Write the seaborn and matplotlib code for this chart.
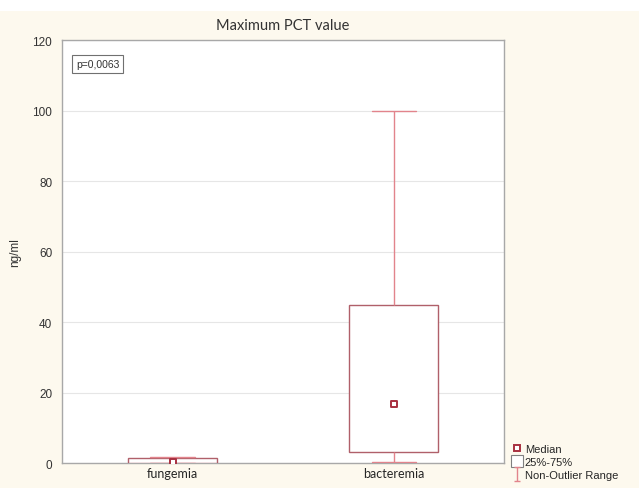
import matplotlib
matplotlib.use("Agg")
import matplotlib.pyplot as plt
from matplotlib.lines import Line2D
from matplotlib.patches import Rectangle
from matplotlib.path import Path
import seaborn as sns
import pandas as pd

# summary stats: min, q1, median, q3, max
groups = ["fungemia", "bacteremia"]
fungemia_vals = [0.05, 0.1, 0.35, 1.4, 1.7]
bacteremia_vals = [0.2, 3.0, 16.8, 44.8, 100.0]
medians = [fungemia_vals[2], bacteremia_vals[2]]
yticks = [0, 20, 40, 60, 80, 100, 120]

df = pd.DataFrame({
    "group": ["fungemia"] * len(fungemia_vals) + ["bacteremia"] * len(bacteremia_vals),
    "value": fungemia_vals + bacteremia_vals,
})

cream = "#fdf9ee"
box_col = "#b0606a"
whisk_col = "#e2848c"
med_col = "#a83040"

sns.set_style("white")
plt.rcParams["font.family"] = ["Liberation Sans", "DejaVu Sans"]

fig = plt.figure(figsize=(6.39, 4.89), dpi=100, facecolor=cream)
fig.add_artist(Rectangle((0, 0.975), 1, 0.025, transform=fig.transFigure,
                         facecolor="white", edgecolor="none", zorder=0))
ax = fig.add_axes([0.097, 0.051, 0.692, 0.865])
ax.set_facecolor("white")

sns.boxplot(data=df, x="group", y="value", order=groups, whis=(0, 100), width=0.4,
            showfliers=False, color="white", linecolor=box_col, linewidth=1,
            whiskerprops=dict(color=whisk_col), capprops=dict(color=whisk_col),
            medianprops=dict(linewidth=0), ax=ax, zorder=3)
sns.scatterplot(x=groups, y=medians, marker="s", s=22, color="white",
                edgecolor=med_col, linewidth=1.4, ax=ax, zorder=5)

ax.set_ylim(0, 120)
ax.set_xlim(-0.5, 1.5)
ax.set_yticks(yticks)
ax.yaxis.grid(True, color="#e6e6e6", linewidth=0.8, zorder=0)
ax.set_axisbelow(True)
for s in ax.spines.values():
    s.set_color("#a8a8a8")
    s.set_linewidth(1)
ax.tick_params(axis="y", length=3, color="#a8a8a8", labelsize=8.5, labelcolor="#333333", pad=4)
ax.tick_params(axis="x", length=0, labelsize=9, pad=3)
for lab in ax.get_xticklabels():
    lab.set_family(["Lato", "DejaVu Sans"])
ax.set_xlabel("")
ax.set_ylabel("ng/ml", fontsize=8.5, color="#333333", labelpad=8)
ax.set_title("Maximum PCT value", fontsize=10.5, family=["Lato", "DejaVu Sans"],
             color="#333333", pad=8)

ax.text(0.032, 0.955, "p=0,0063", transform=ax.transAxes, fontsize=7.5,
        va="top", ha="left", color="#333333",
        bbox=dict(boxstyle="square,pad=0.35", facecolor="white", edgecolor="#707070", linewidth=0.8))

ibeam = Path([(-0.5, 1), (0.5, 1), (0, 1), (0, -1), (-0.5, -1), (0.5, -1)],
             [Path.MOVETO, Path.LINETO, Path.MOVETO, Path.LINETO, Path.MOVETO, Path.LINETO])
handles = [
    Line2D([], [], linestyle="none", marker="s", markersize=4.5, markerfacecolor="white",
           markeredgecolor=med_col, markeredgewidth=1.4),
    Line2D([], [], linestyle="none", marker="s", markersize=9, markerfacecolor="white",
           markeredgecolor="#808080", markeredgewidth=0.8),
    Line2D([], [], linestyle="none", marker=ibeam, markersize=10, markeredgecolor=whisk_col,
           markerfacecolor="none", markeredgewidth=1),
]
fig.legend(handles, ["Median", "25%-75%", "Non-Outlier Range"], loc="lower left",
           bbox_to_anchor=(0.79, 0.0), frameon=False, handlelength=0.8,
           handletextpad=0.3, labelspacing=0.3, borderaxespad=0.3,
           prop={"family": ["Liberation Sans", "DejaVu Sans"], "size": 8})

fig.savefig("out.png", dpi=100, facecolor=cream)
